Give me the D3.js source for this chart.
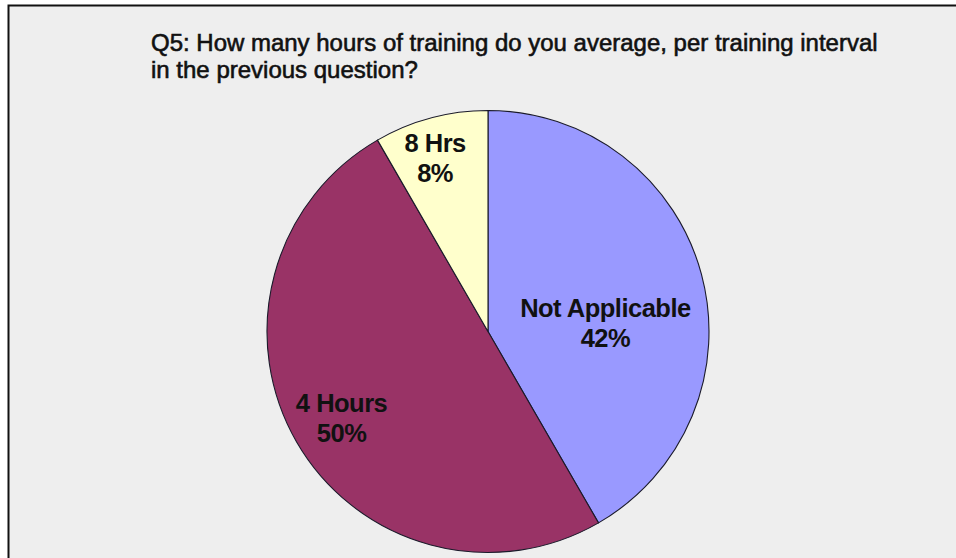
<!DOCTYPE html>
<html>
<head>
<meta charset="utf-8">
<script src="https://cdn.jsdelivr.net/npm/d3@7"></script>
<style>
  html, body { margin: 0; padding: 0; background: #ffffff; }
  svg { display: block; }
</style>
</head>
<body>
<svg id="chart" width="956" height="558"></svg>
<script>
// ---- data ----
const categories = ["Not Applicable", "4 Hours", "8 Hrs"];
const values = [5, 6, 1];               // respondents (42%, 50%, 8%)
const percentLabels = ["42%", "50%", "8%"];
const colors = ["#9999FF", "#993366", "#FFFFCC"];
const titleLines = [
  "Q5: How many hours of training do you average, per training interval",
  "in the previous question?"
];

// ---- layout ----
const W = 956, H = 558;
const svg = d3.select("#chart");

svg.append("rect")
  .attr("x", 8.5).attr("y", 5.5)
  .attr("width", W + 10).attr("height", H + 10)
  .attr("fill", "#eeeeee")
  .attr("stroke", "#111").attr("stroke-width", 2);

const titleWidths = [727, 267];
svg.append("g").selectAll("text")
  .data(titleLines)
  .join("text")
  .attr("x", 151)
  .attr("y", (d, i) => 51 + i * 27)
  .attr("font-family", "Arial, 'Liberation Sans', sans-serif")
  .attr("font-size", 21.5)
  .attr("fill", "#111")
  .attr("stroke", "#111").attr("stroke-width", 0.6)
  .attr("textLength", (d, i) => titleWidths[i])
  .attr("lengthAdjust", "spacing")
  .text(d => d);

const cx = 488, cy = 331.5, r = 221;
const g = svg.append("g").attr("transform", `translate(${cx},${cy})`);

const pie = d3.pie().sort(null).value(d => d.value);
const arcs = pie(categories.map((c, i) => ({ cat: c, value: values[i], pct: percentLabels[i], color: colors[i] })));
const arc = d3.arc().innerRadius(0).outerRadius(r);

g.selectAll("path")
  .data(arcs)
  .join("path")
  .attr("d", arc)
  .attr("fill", d => d.data.color)
  .attr("stroke", "#1a1a2a")
  .attr("stroke-width", 1.1);

// label placement (Excel-style "best fit")
const labelFrac = [0.55, 0.765, 0.82];
const labelNudge = [[0, 23], [0, 2], [-6, 2]];

const labels = g.selectAll("g.lbl")
  .data(arcs)
  .join("g")
  .attr("class", "lbl")
  .attr("transform", (d, i) => {
    const la = d3.arc().innerRadius(r * labelFrac[i]).outerRadius(r * labelFrac[i]);
    const [x, y] = la.centroid(d);
    return `translate(${x + labelNudge[i][0]},${y + labelNudge[i][1]})`;
  });

labels.selectAll("text")
  .data(d => [d.data.cat, d.data.pct])
  .join("text")
  .attr("x", 0)
  .attr("y", (d, i) => -6 + i * 30)
  .attr("text-anchor", "middle")
  .attr("font-family", "Arial, 'Liberation Sans', sans-serif")
  .attr("font-size", 25.5)
  .attr("font-weight", "bold")
  .attr("letter-spacing", -0.5)
  .attr("fill", "#111")
  .text(d => d);

// tighten title: shrink letter spacing so glyphs stay larger (Excel look)
svg.selectAll("g text").filter(function() { return this.getAttribute("textLength"); })
  .each(function(d, i) {
    const el = this;
    el.removeAttribute("textLength");
    const natural = el.getComputedTextLength();
    const n = d.length - 1;
    const ls = (titleWidths[i] - natural) / n;
    if (ls < 0) el.setAttribute("letter-spacing", ls);
    else { el.setAttribute("font-size", 21.5 * titleWidths[i] / natural); }
  });
</script>
</body>
</html>
